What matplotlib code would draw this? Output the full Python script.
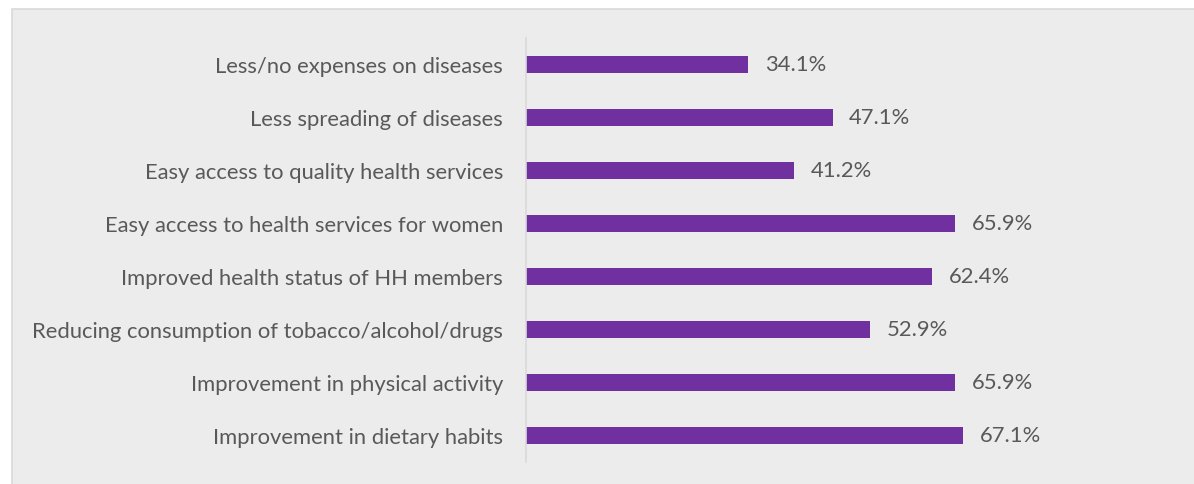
import matplotlib
matplotlib.use("Agg")
import matplotlib.pyplot as plt
from matplotlib.patches import Rectangle

categorias = [
    "Less/no expenses on diseases",
    "Less spreading of diseases",
    "Easy access to quality health services",
    "Easy access to health services for women",
    "Improved health status of HH members",
    "Reducing consumption of tobacco/alcohol/drugs",
    "Improvement in physical activity",
    "Improvement in dietary habits",
]
valores = [34.1, 47.1, 41.2, 65.9, 62.4, 52.9, 65.9, 67.1]

W, H = 1194, 485
fig = plt.figure(figsize=(W / 100, H / 100), dpi=100)
fig.patch.set_facecolor("white")

# fundo cinza do quadro do gráfico
fig.patches.append(Rectangle((12 / W, -0.01), 1.0, 1 - 10 / H + 0.01,
                             transform=fig.transFigure, facecolor="#ececec",
                             edgecolor="#d9d9d9", linewidth=1.2, zorder=-5))

ax = fig.add_axes([526 / W, 1 - 463 / H, (1177 - 526) / W, (463 - 39) / H])
ax.set_facecolor("none")

y = list(range(len(categorias)))
ax.barh(y, valores, height=0.32, color="#7030a0")
ax.set_xlim(0, 100)
ax.set_ylim(len(categorias) - 0.5, -0.5)

ax.set_yticks(y)
ax.set_yticklabels(categorias, fontsize=15.8, color="#595959", family="Lato")
ax.tick_params(axis="y", length=0, pad=16.5)
ax.set_xticks([])

for s in ["top", "right", "bottom"]:
    ax.spines[s].set_visible(False)
ax.spines["left"].set_color("#d9d9d9")
ax.spines["left"].set_linewidth(1.2)

for i, v in enumerate(valores):
    ax.annotate(f"{v:.1f}%", (v, i), xytext=(12, 0), textcoords="offset points",
                va="center", ha="left", fontsize=15.8, color="#595959", family="Lato")

fig.savefig("out.png", dpi=100)
